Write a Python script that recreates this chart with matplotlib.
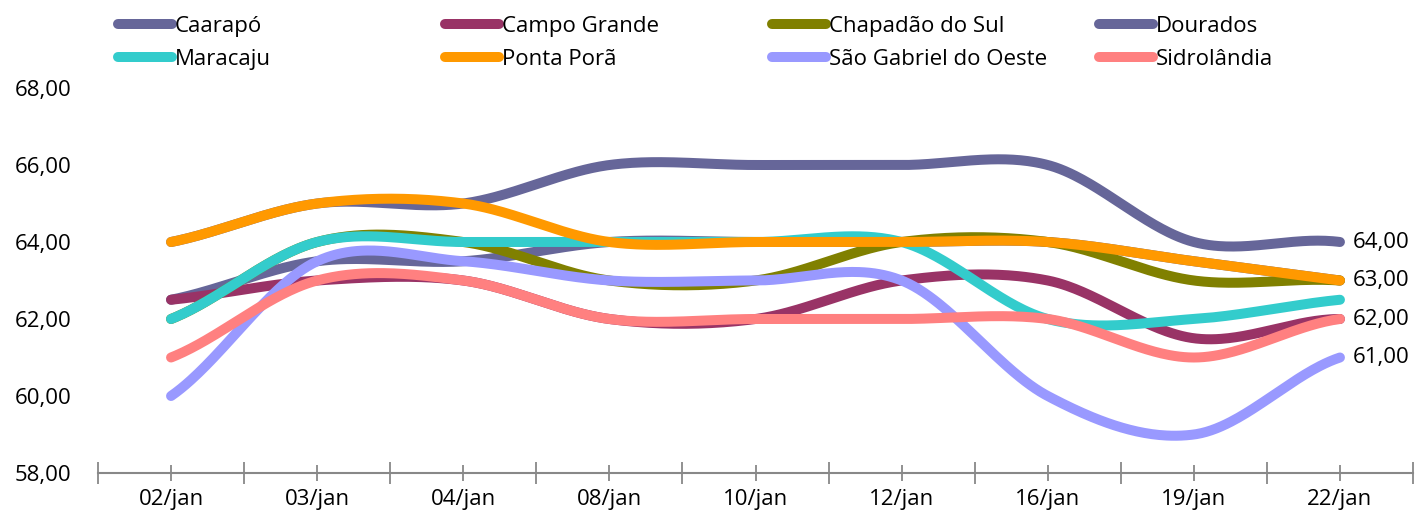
import numpy as np
import matplotlib.pyplot as plt
from matplotlib.lines import Line2D

plt.rcParams['font.family'] = ['Open Sans', 'DejaVu Sans']

# datas do levantamento
datas = ['02/jan', '03/jan', '04/jan', '08/jan', '10/jan',
         '12/jan', '16/jan', '19/jan', '22/jan']

# preços por município
caarapo = [62.5, 63.5, 63.5, 64, 64, 64, 64, 63.5, 63]
campo_grande = [62.5, 63, 63, 62, 62, 63, 63, 61.5, 62]
chapadao = [62, 64, 64, 63, 63, 64, 64, 63, 63]
dourados = [64, 65, 65, 66, 66, 66, 66, 64, 64]
maracaju = [62, 64, 64, 64, 64, 64, 62, 62, 62.5]
ponta_pora = [64, 65, 65, 64, 64, 64, 64, 63.5, 63]
sao_gabriel = [60, 63.5, 63.5, 63, 63, 63, 60, 59, 61]
sidrolandia = [61, 63, 63, 62, 62, 62, 62, 61, 62]

nomes = ['Caarapó', 'Campo Grande', 'Chapadão do Sul', 'Dourados',
         'Maracaju', 'Ponta Porã', 'São Gabriel do Oeste', 'Sidrolândia']
series = [caarapo, campo_grande, chapadao, dourados,
          maracaju, ponta_pora, sao_gabriel, sidrolandia]
cores = ['#666699', '#993366', '#808000', '#666699',
         '#33CCCC', '#FF9900', '#9999FF', '#FF8080']
# séries com rótulo no último ponto
rotulados = ['Dourados', 'Ponta Porã', 'Sidrolândia', 'São Gabriel do Oeste']

FS = 16


def suaviza(y, n=60):
    # curva tipo Catmull-Rom (linha suavizada do Excel)
    y = np.asarray(y, dtype=float)
    k = len(y)
    m = np.zeros(k)
    m[1:-1] = (y[2:] - y[:-2]) / 2
    m[0] = ((y[1] - y[0]) + m[1]) / 2
    m[-1] = ((y[-1] - y[-2]) + m[-2]) / 2
    xs, ys = [], []
    t = np.linspace(0, 1, n)
    h00 = 2 * t**3 - 3 * t**2 + 1
    h10 = t**3 - 2 * t**2 + t
    h01 = -2 * t**3 + 3 * t**2
    h11 = t**3 - t**2
    for i in range(k - 1):
        xs.append(i + t)
        ys.append(h00 * y[i] + h10 * m[i] + h01 * y[i + 1] + h11 * m[i + 1])
    return np.concatenate(xs), np.concatenate(ys)


W, H = 1416, 523
fig = plt.figure(figsize=(W / 100, H / 100), dpi=100)
ax = fig.add_axes([98 / W, 50 / H, (1413 - 98) / W, (473 - 88) / H])

for i, (nome, vals, cor) in enumerate(zip(nomes, series, cores)):
    xs, ys = suaviza(vals)
    ax.plot(xs, ys, color=cor, lw=7.2, solid_capstyle='round', zorder=2 + i)
    if nome in rotulados:
        ax.annotate(f'{vals[-1]:.2f}'.replace('.', ','),
                    xy=(len(vals) - 1, vals[-1]), xytext=(9, 0),
                    textcoords='offset points', ha='left', va='center',
                    fontsize=FS, color='black')

ax.set_xlim(-0.5, len(datas) - 0.5)
ax.set_ylim(58, 68)

ax.set_xticks(range(len(datas)))
ax.set_xticklabels(datas, fontsize=FS)
ax.set_xticks(np.arange(-0.5, len(datas)), minor=True)
ax.tick_params(axis='x', which='major', direction='inout', length=11,
               width=1.3, color='#888888', pad=6)
ax.tick_params(axis='x', which='minor', direction='inout', length=16,
               width=1.3, color='#888888')

yt = np.arange(58, 69, 2)
ax.set_yticks(yt)
ax.set_yticklabels([f'{v:.2f}'.replace('.', ',') for v in yt], fontsize=FS)
ax.tick_params(axis='y', length=0, pad=19)

for lado in ['top', 'right', 'left']:
    ax.spines[lado].set_visible(False)
ax.spines['bottom'].set_color('#888888')
ax.spines['bottom'].set_linewidth(1.5)

# legenda em 4 colunas
for i, (nome, cor) in enumerate(zip(nomes, cores)):
    col, lin = i % 4, i // 4
    x0 = 118 + col * 327
    y0 = 24 + lin * 33
    fig.add_artist(Line2D([x0 / W, (x0 + 54) / W], [1 - y0 / H, 1 - y0 / H],
                          transform=fig.transFigure, color=cor, lw=7.2,
                          solid_capstyle='round'))
    fig.text((x0 + 57) / W, 1 - (y0 + 8) / H, nome, fontsize=FS,
             ha='left', va='baseline')

fig.savefig('out.png', dpi=100)
